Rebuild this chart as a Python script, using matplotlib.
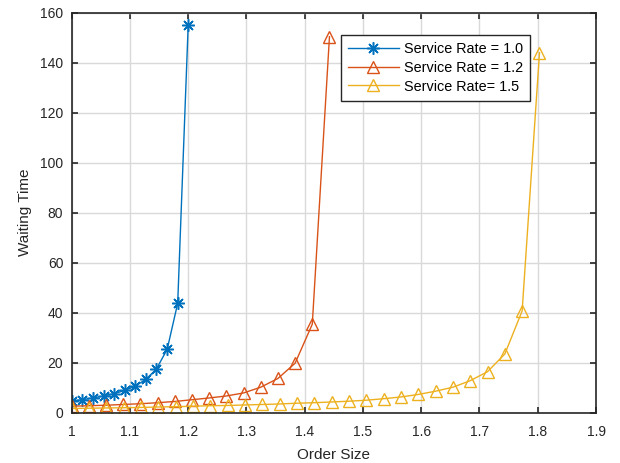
import matplotlib.pyplot as plt

plt.rcParams['font.family'] = ['Liberation Sans', 'DejaVu Sans']

# order size vs waiting time for three service rates
order_r10 = [1.0, 1.018, 1.036, 1.055, 1.073, 1.091, 1.109, 1.127, 1.145, 1.164, 1.182, 1.2]
wait_r10 = [4.6, 5.2, 5.9, 6.7, 7.6, 8.9, 10.6, 13.3, 17.3, 25.4, 43.8, 155.0]

order_r12 = [1.0, 1.0295, 1.059, 1.0885, 1.118, 1.1475, 1.177, 1.2065,
             1.236, 1.2655, 1.295, 1.3245, 1.354, 1.3835, 1.413, 1.4425]
wait_r12 = [2.6, 2.8, 3.0, 3.3, 3.6, 4.0, 4.5, 5.2,
            5.9, 6.7, 7.9, 10.2, 13.7, 19.8, 35.4, 150.4]

order_r15 = [1.0, 1.0297, 1.0595, 1.0892, 1.119, 1.1487, 1.1784, 1.2082,
             1.2379, 1.2677, 1.2974, 1.3271, 1.3569, 1.3866, 1.4164, 1.4461,
             1.4758, 1.5056, 1.5353, 1.5651, 1.5948, 1.6245, 1.6543, 1.684,
             1.7138, 1.7435, 1.7732, 1.803]
wait_r15 = [1.7, 1.8, 1.9, 2.0, 2.1, 2.3, 2.4, 2.6,
            2.8, 2.9, 3.1, 3.3, 3.5, 3.8, 4.0, 4.3,
            4.6, 5.0, 5.6, 6.3, 7.3, 8.6, 10.2, 12.8,
            16.4, 23.5, 40.7, 144.0]

labels = ['Service Rate = 1.0', 'Service Rate = 1.2', 'Service Rate= 1.5']
colors = ['#0072BD', '#D95319', '#EDB120']

fig = plt.figure(figsize=(6.2, 4.63), dpi=100)
ax = fig.add_axes([0.1156, 0.1086, 0.8457, 0.864])

ax.plot(order_r10, wait_r10, color=colors[0], lw=1.0, marker=(8, 2, 0),
        ms=9, mew=1.1, label=labels[0])
ax.plot(order_r12, wait_r12, color=colors[1], lw=1.0, marker='^',
        ms=8, mew=1.0, mfc='none', label=labels[1])
ax.plot(order_r15, wait_r15, color=colors[2], lw=1.0, marker='^',
        ms=8, mew=1.0, mfc='none', label=labels[2])

ax.set_xlim(1, 1.9)
ax.set_ylim(0, 160)
ax.set_xticks([1, 1.1, 1.2, 1.3, 1.4, 1.5, 1.6, 1.7, 1.8, 1.9])
ax.set_xticklabels(['1', '1.1', '1.2', '1.3', '1.4', '1.5', '1.6', '1.7', '1.8', '1.9'])
ax.set_yticks(range(0, 161, 20))

ax.grid(True, color='#d9d9d9', lw=1.0)
ax.set_axisbelow(True)
for s in ax.spines.values():
    s.set_color('#262626')
    s.set_linewidth(1.2)
ax.tick_params(direction='in', top=True, right=True, length=4, width=1.2,
               labelsize=10, colors='#262626')
ax.tick_params(axis='x', pad=9)
ax.tick_params(axis='y', pad=6)

ax.set_xlabel('Order Size', fontsize=11, color='#262626', labelpad=6)
ax.set_ylabel('Waiting Time', fontsize=11, color='#262626', labelpad=6)

leg = ax.legend(loc='upper right', bbox_to_anchor=(0.874, 0.944), fontsize=10.4,
                fancybox=False, framealpha=1, edgecolor='#262626',
                handlelength=3.5, handletextpad=0.35, borderpad=0.5,
                labelspacing=0.32, borderaxespad=0)
leg.get_frame().set_linewidth(1.0)

fig.savefig('out.png', dpi=100)
